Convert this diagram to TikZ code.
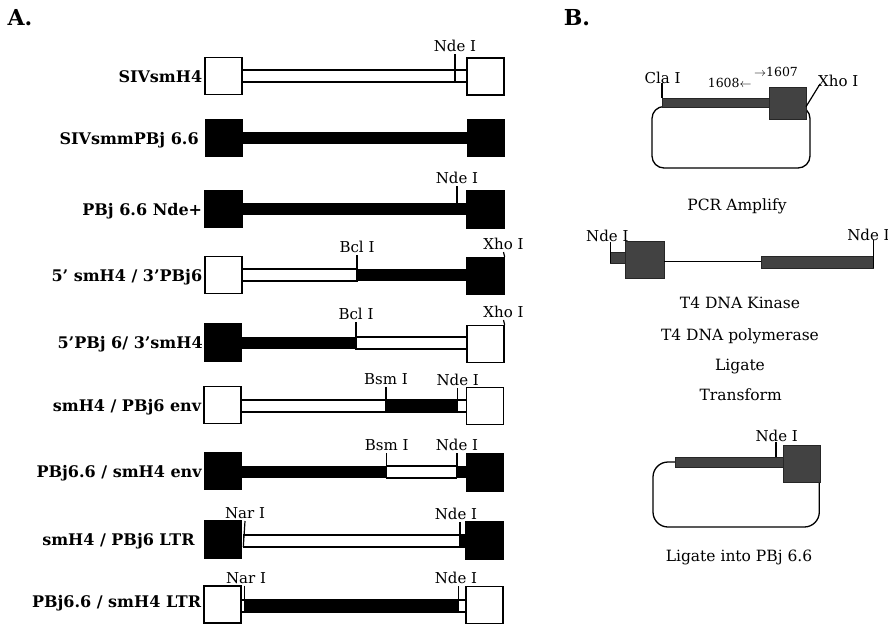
\documentclass[tikz,border=0pt]{standalone}
\usepackage{fontspec}
\setmainfont{DejaVu Serif}
\usetikzlibrary{positioning}

\begin{document}
\begin{tikzpicture}[
  x=1pt, y=-1pt,
  rowlbl/.style={font=\fontsize{16}{19}\selectfont\bfseries, inner sep=2pt,
                 text height=12pt, text depth=0pt},
  site/.style={font=\fontsize{15}{17}\selectfont, anchor=south, inner sep=2pt, text depth=0pt},
  bsite/.style={font=\fontsize{15}{17}\selectfont, inner sep=0pt},
  primer/.style={font=\fontsize{12.5}{14}\selectfont, inner sep=0pt},
  capt/.style={font=\fontsize{15.5}{17}\selectfont, anchor=base, inner sep=0pt},
  panel/.style={font=\fontsize{22}{24}\selectfont\bfseries, inner sep=0pt},
  wbox/.style={draw, fill=white, line width=1.3pt, minimum width=37pt,
               minimum height=37pt, inner sep=0pt},
  bbox/.style={wbox, fill=black},
  obar/.style={draw, fill=white, line width=1.2pt},
  sitecut/.style={line width=1.2pt},
  stip/.style={fill=black!74, draw=black!85, line width=0.5pt},
  loop/.style={line width=1.3pt},
]
\useasboundingbox (0,0) rectangle (888,624);

% Panel letters
\node[panel] (pA) at (20,18) {A.};
\node[panel] (pB) at (577,18) {B.};

% SIVsmH4
\draw[obar] (242,70) rectangle (467,82);
\node[wbox] (L1) at (223.5,76) {};
\node[wbox] (R1) at (485.5,76.5) {};
\node[rowlbl, left=0pt of L1] {SIVsmH4};
\node[site] (nde1) at (455,54) {Nde I};
\draw[sitecut] (nde1.south) -- (455,82);

% SIVsmmPBj 6.6
\fill (242,132) rectangle (467,144);
\node[bbox] (L2) at (224,138) {};
\node[bbox] (R2) at (486,138) {};
\node[rowlbl, left=4pt of L2] {SIVsmmPBj 6.6};

% PBj 6.6 Nde+
\fill (242,203) rectangle (467,215);
\node[bbox] (L3) at (223.5,209) {};
\node[bbox] (R3) at (485.5,209.5) {};
\node[rowlbl, left=0pt of L3] {PBj 6.6 Nde+};
\node[site] (nde3) at (457,186) {Nde I};
\draw[sitecut] (nde3.south) -- (457,203);

% 5' smH4 / 3'PBj6
\draw[obar] (242,269) rectangle (357,281);
\fill (357,269) rectangle (467,281);
\node[wbox] (L4) at (223.5,275) {};
\node[bbox] (R4) at (485.5,276) {};
\node[rowlbl, left=0pt of L4] {5' smH4 / 3'PBj6};
\node[site] (bcl4) at (357,255) {Bcl I};
\draw[sitecut] (bcl4.south) -- (357,281);
\node[site] (xho4) at (503.5,252) {Xho I};
\draw[sitecut] (xho4.south) -- (R4.north east);

% 5'PBj 6/ 3'smH4
\fill (242,337) rectangle (356,349);
\draw[obar] (356,337) rectangle (467,349);
\node[bbox] (L5) at (223,342.5) {};
\node[wbox] (R5) at (485.5,344) {};
\node[rowlbl, left=-1pt of L5] {5'PBj 6/ 3'smH4};
\node[site] (bcl5) at (356,322) {Bcl I};
\draw[sitecut] (bcl5.south) -- (356,349);
\node[site] (xho5) at (503.5,320) {Xho I};
\draw[sitecut] (xho5.south) -- (R5.north east);

% smH4 / PBj6 env
\draw[obar] (241,400) rectangle (467,412);
\fill (386,400) rectangle (457.7,412);
\node[wbox] (L6) at (222.5,405) {};
\node[wbox] (R6) at (485,406) {};
\node[rowlbl, left=0pt of L6] {smH4 / PBj6 env};
\node[site] (bsm6) at (386,387) {Bsm I};
\draw[sitecut] (bsm6.south) -- (386,412);
\node[site] (nde6) at (457.7,388) {Nde I};
\draw[sitecut] (nde6.south) -- (457.7,412);

% PBj6.6 / smH4 env
\fill (242,466) rectangle (467,478);
\draw[obar] (386.7,466) rectangle (456.7,478);
\node[bbox] (L7) at (223,471) {};
\node[bbox] (R7) at (485,472.5) {};
\node[rowlbl, left=0pt of L7] {PBj6.6 / smH4 env};
\node[site] (bsm7) at (386.7,453) {Bsm I};
\draw[sitecut] (bsm7.south) -- (386.7,466);
\node[site] (nde7) at (457,453) {Nde I};
\draw[sitecut] (nde7.south) -- (457,478);

% smH4 / PBj6 LTR
\draw[obar] (243.3,535) rectangle (466,547);
\fill (460,535) rectangle (466,547);
\node[bbox] (L8) at (223,539.5) {};
\node[bbox] (R8) at (484.5,540.5) {};
\node[rowlbl, left=7pt of L8] {smH4 / PBj6 LTR};
\node[site] (nar8) at (245,521) {Nar I};
\draw[sitecut] (nar8.south) -- (243.3,547);
\node[site] (nde8) at (456,522) {Nde I};
\draw[sitecut] (460,522) -- (460,547);

% PBj6.6 / smH4 LTR
\draw[obar] (241,600) rectangle (466,612);
\fill (244.3,600) rectangle (458.3,612);
\node[wbox] (L9) at (222.5,604.5) {};
\node[wbox] (R9) at (484.5,605.3) {};
\node[rowlbl, left=0pt of L9, yshift=3pt] {PBj6.6 / smH4 LTR};
\node[site] (nar9) at (246,585.5) {Nar I};
\draw[sitecut] (244.3,585.5) -- (244.3,612);
\node[site] (nde9) at (456,586) {Nde I};
\draw[sitecut] (458.3,586) -- (458.3,612);

% B: template plasmid
\draw[loop, rounded corners=12pt] (652,106.5) rectangle (810,168);
\fill[stip] (662,98) rectangle (770,107);
\filldraw[stip] (769.3,87.7) rectangle (806,119.3);
\node[bsite, anchor=base] (cla) at (662.5,83) {Cla I};
\draw[sitecut] (662,83) -- (662,98);
\node[bsite, anchor=base west] (xhoB) at (818,86.7) {Xho I};
\draw[sitecut] (806,106.7) -- (820,84);
\node[primer] (p1608) at (729.7,83) {1608$\leftarrow$};
\node[primer] (p1607) at (776,72) {$\rightarrow$1607};
\node[capt] (pcr) at (737,210) {PCR Amplify};

% B: PCR fragment
\fill[stip] (610.7,252) rectangle (625,263.3);
\filldraw[stip] (625,241.7) rectangle (664,278.3);
\draw[line width=1pt] (664,261.7) -- (761.7,261.7);
\fill[stip] (761.7,256.7) rectangle (873.3,268.3);
\node[bsite, anchor=base] (ndeL) at (607.3,241.7) {Nde I};
\draw[sitecut] (610.7,241.7) -- (610.7,263.3);
\node[bsite, anchor=base] (ndeR) at (868.5,240) {Nde I};
\draw[sitecut] (873.3,240) -- (873.3,268.3);

% B: steps
\node[capt] (kin) at (740,308) {T4 DNA Kinase};
\node[capt] (pol) at (740,340) {T4 DNA polymerase};
\node[capt] (lig) at (740,370) {Ligate};
\node[capt] (trf) at (740.7,400) {Transform};

% B: final plasmid
\draw[loop, rounded corners=15pt] (653,462) rectangle (819.3,527);
\fill[stip] (675.7,457.3) rectangle (783.3,467.3);
\filldraw[stip] (783.3,445) rectangle (820.7,482.7);
\node[bsite, anchor=base] (ndeP) at (776.7,441.7) {Nde I};
\draw[sitecut] (ndeP.base -| 776,0) -- (776,457.3);
\node[capt] (into) at (739,561.7) {Ligate into PBj 6.6};

\end{tikzpicture}
\end{document}
